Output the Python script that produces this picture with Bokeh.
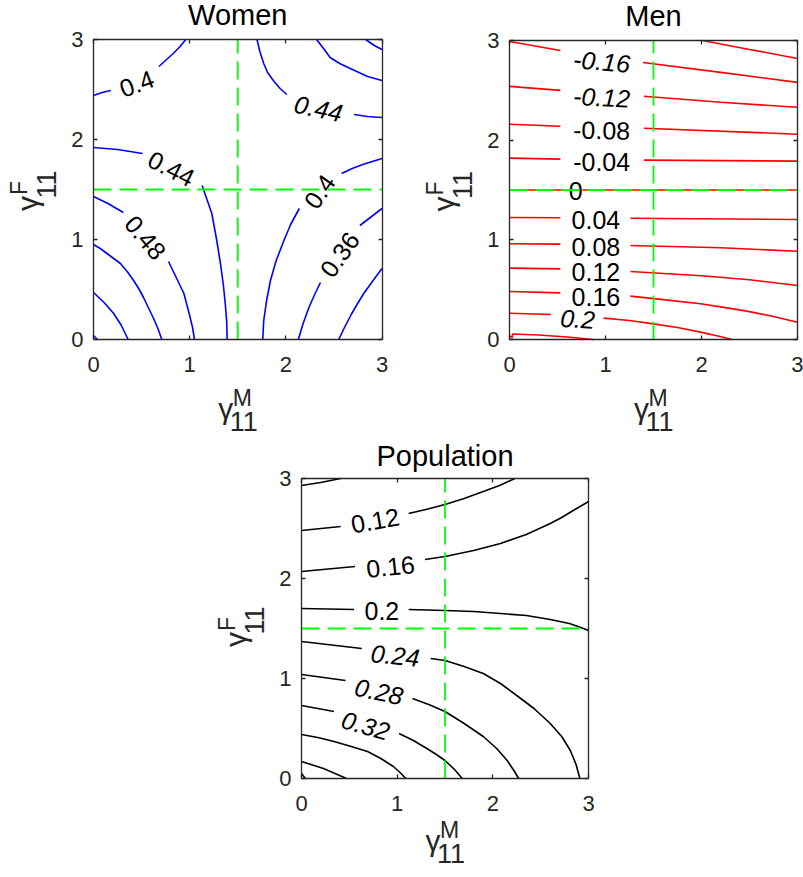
from bokeh.plotting import figure
from bokeh.models import Range1d, FixedTicker, LinearAxis, ColumnDataSource
from bokeh.layouts import column, row
from bokeh.embed import file_html
from bokeh.resources import INLINE
from bokeh.core.properties import value

# ---------------- data ----------------
AX_MIN, AX_MAX = 0, 3
TICKS = [0, 1, 2, 3]
TICK_LABELS = {0: "0", 1: "1", 2: "2", 3: "3"}
REF_X = 1.5
REF_Y = 1.5

# Women contour segments (gaps at label positions)
WOMEN_X = [
    [0.0, 0.09, 0.18], [0.68, 0.76, 0.83, 0.90, 0.96],
    [1.70, 1.73, 1.77, 1.81, 1.87, 1.94, 2.01], [2.71, 2.85, 3.0],
    [2.32, 2.40, 2.46, 2.56, 2.67, 2.85, 3.0],
    [2.83, 2.92, 3.0],
    [3.0, 2.90, 2.80, 2.69, 2.58], [2.14, 2.05, 1.98, 1.90, 1.84, 1.80, 1.77, 1.76],
    [3.0, 2.77], [2.36, 2.30, 2.24, 2.18, 2.13],
    [3.0, 2.90, 2.81, 2.74, 2.68, 2.61, 2.55],
    [0.0, 0.25, 0.51],
    [1.13, 1.18, 1.23, 1.28, 1.32, 1.35, 1.37, 1.385, 1.39],
    [0.0, 0.15, 0.31], [0.78, 0.82, 0.86, 0.90, 0.94, 0.97, 1.00, 1.03, 1.05],
    [0.0, 0.07, 0.14, 0.21, 0.28, 0.35, 0.41, 0.47, 0.52, 0.57, 0.62, 0.67, 0.71],
    [0.0, 0.11, 0.21, 0.29, 0.36],
    [0.0, 0.04],
]
WOMEN_Y = [
    [2.44, 2.47, 2.49], [2.73, 2.80, 2.86, 2.93, 3.0],
    [3.0, 2.88, 2.76, 2.67, 2.59, 2.51, 2.45], [2.25, 2.23, 2.22],
    [3.0, 2.90, 2.82, 2.76, 2.71, 2.63, 2.59],
    [3.0, 2.94, 2.90],
    [1.81, 1.78, 1.75, 1.71, 1.66], [1.31, 1.15, 0.99, 0.79, 0.59, 0.39, 0.19, 0.0],
    [1.31, 1.14], [0.57, 0.45, 0.32, 0.16, 0.0],
    [0.71, 0.58, 0.46, 0.35, 0.25, 0.12, 0.0],
    [1.92, 1.90, 1.86],
    [1.54, 1.40, 1.26, 1.00, 0.76, 0.55, 0.36, 0.18, 0.0],
    [1.43, 1.36, 1.27], [0.78, 0.70, 0.62, 0.54, 0.46, 0.35, 0.24, 0.12, 0.0],
    [0.95, 0.91, 0.86, 0.81, 0.76, 0.68, 0.60, 0.51, 0.42, 0.32, 0.22, 0.11, 0.0],
    [0.47, 0.37, 0.26, 0.14, 0.0],
    [0.04, 0.0],
]
WOMEN_LABELS = ["0.4", "0.44", "0.44", "0.48", "0.4", "0.36"]
WOMEN_LAB_X = [0.45, 2.34, 0.81, 0.54, 2.35, 2.56]
WOMEN_LAB_Y = [2.56, 2.31, 1.71, 1.02, 1.48, 0.85]
WOMEN_LAB_ANGLE = [20, -12, -27, -50, 55, 55]
WOMEN_LAB_ITALIC = [False, True, False, False, False, False]

# Men contour segments
MEN_X = [
    [2.01, 2.5, 3.0],
    [0.0, 0.53], [1.39, 2.2, 3.0],
    [0.0, 0.53], [1.40, 2.2, 3.0],
    [0.0, 0.53], [1.40, 3.0],
    [0.0, 0.53], [1.40, 3.0],
    [0.0, 0.55], [0.76, 3.0],
    [0.0, 0.53], [1.26, 3.0],
    [0.0, 0.53], [1.26, 2.2, 3.0],
    [0.0, 0.53], [1.26, 2.0, 2.5, 3.0],
    [0.0, 0.53], [1.26, 1.6, 1.99, 2.25, 2.5, 2.75, 3.0],
    [0.0, 0.43], [0.98, 1.25, 1.5, 1.75, 1.99, 2.17, 2.32],
    [0.0, 0.03, 0.03, 0.3, 0.6, 0.87],
]
MEN_Y = [
    [3.0, 2.91, 2.82],
    [2.99, 2.90], [2.78, 2.68, 2.58],
    [2.54, 2.50], [2.44, 2.38, 2.33],
    [2.16, 2.14], [2.12, 2.06],
    [1.82, 1.81], [1.80, 1.79],
    [1.5, 1.5], [1.5, 1.5],
    [1.224, 1.221], [1.217, 1.204],
    [0.96, 0.957], [0.943, 0.92, 0.886],
    [0.716, 0.709], [0.682, 0.64, 0.60, 0.542],
    [0.482, 0.468], [0.435, 0.40, 0.358, 0.32, 0.28, 0.23, 0.174],
    [0.264, 0.251], [0.214, 0.19, 0.157, 0.12, 0.074, 0.035, 0.0],
    [0.035, 0.02, 0.055, 0.045, 0.025, 0.0],
]
MEN_LABELS = ["-0.16", "-0.12", "-0.08", "-0.04", "0", "0.04", "0.08", "0.12", "0.16", "0.2"]
MEN_LAB_X = [0.96, 0.96, 0.96, 0.96, 0.69, 0.90, 0.90, 0.90, 0.90, 0.71]
MEN_LAB_Y = [2.79, 2.43, 2.10, 1.78, 1.49, 1.20, 0.93, 0.675, 0.425, 0.207]
MEN_LAB_ANGLE = [-5, -3, -1, 0, 0, 0, 0, 0, 0, -4]
MEN_LAB_ITALIC = [True, True, False, False, False, False, False, False, False, True]

# Population contour segments
POP_X = [
    [0.0, 0.2, 0.41],
    [0.0, 0.41], [1.12, 1.30, 1.50, 1.70, 1.90, 2.07, 2.23],
    [0.0, 0.56], [1.29, 1.50, 1.80, 2.08, 2.35, 2.60, 2.72, 2.84, 2.93, 3.0],
    [0.0, 0.55], [1.12, 1.50, 1.80, 2.08, 2.35, 2.60, 2.80, 2.92, 3.0],
    [0.0, 0.63], [1.35, 1.50, 1.70, 1.90, 2.08, 2.25, 2.43, 2.60, 2.72, 2.81, 2.87, 2.91],
    [0.0, 0.46], [1.16, 1.33, 1.50, 1.70, 1.90, 2.04, 2.15, 2.22, 2.27],
    [0.0, 0.34], [1.02, 1.17, 1.31, 1.41, 1.50, 1.60, 1.68],
    [0.0, 0.17, 0.34, 0.52, 0.69, 0.83, 0.96, 1.03, 1.09],
    [0.0, 0.23, 0.47],
    [0.0, 0.04],
]
POP_Y = [
    [2.93, 2.96, 3.0],
    [2.48, 2.52], [2.65, 2.69, 2.74, 2.80, 2.87, 2.93, 3.0],
    [2.07, 2.12], [2.19, 2.22, 2.28, 2.35, 2.44, 2.55, 2.61, 2.68, 2.73, 2.77],
    [1.70, 1.69], [1.69, 1.68, 1.67, 1.65, 1.63, 1.59, 1.55, 1.51, 1.48],
    [1.37, 1.30], [1.20, 1.18, 1.12, 1.05, 0.95, 0.83, 0.70, 0.55, 0.42, 0.28, 0.14, 0.0],
    [1.04, 0.98], [0.80, 0.74, 0.67, 0.55, 0.42, 0.30, 0.18, 0.08, 0.0],
    [0.73, 0.67], [0.45, 0.38, 0.30, 0.24, 0.18, 0.09, 0.0],
    [0.44, 0.41, 0.37, 0.32, 0.27, 0.20, 0.12, 0.06, 0.0],
    [0.17, 0.10, 0.0],
    [0.05, 0.0],
]
POP_LABELS = ["0.12", "0.16", "0.2", "0.24", "0.28", "0.32"]
POP_LAB_X = [0.77, 0.93, 0.84, 0.98, 0.81, 0.67]
POP_LAB_Y = [2.58, 2.12, 1.68, 1.23, 0.87, 0.53]
POP_LAB_ANGLE = [10, 6, 0, -6, -12, -16]
POP_LAB_ITALIC = [False, False, False, True, True, True]

# ---------------- styling / layout (pixels) ----------------
FONT = "Liberation Sans"
AXC = "#262626"
GREEN = "#00ff00"


def make_axis(p, loc, fixed, with_labels, standoff=10):
    ax = LinearAxis(fixed_location=fixed, bounds=(AX_MIN, AX_MAX),
                    ticker=FixedTicker(ticks=TICKS), major_tick_in=4, major_tick_out=0,
                    minor_tick_line_color=None, axis_line_color=AXC, axis_line_width=1.3,
                    major_tick_line_color=AXC, major_tick_line_width=1.3)
    if with_labels:
        ax.major_label_overrides = TICK_LABELS
        ax.major_label_text_font = FONT
        ax.major_label_text_font_size = "22px"
        ax.major_label_text_color = AXC
        ax.major_label_standoff = standoff
    else:
        ax.major_label_text_color = None
    p.add_layout(ax, loc)


def panel(title, xs, ys, color, labs, lx, ly, la, lit,
          cw, ch, cx0, cy0, bl, br, bt, bb, xlab_dy, ylab_dy, title_dy):
    ppx = (br - bl) / (AX_MAX - AX_MIN)
    ppy = (bb - bt) / (AX_MAX - AX_MIN)
    x_lo = AX_MIN + (cx0 - bl) / ppx
    x_hi = AX_MIN + (cx0 + cw - bl) / ppx
    y_hi = AX_MIN + (bb - cy0) / ppy
    y_lo = AX_MIN + (bb - (cy0 + ch)) / ppy
    p = figure(width=cw, height=ch, x_range=Range1d(x_lo, x_hi), y_range=Range1d(y_lo, y_hi),
               x_axis_location=None, y_axis_location=None, min_border=0,
               output_backend="svg", toolbar_location=None)
    p.grid.visible = False
    p.outline_line_color = None
    p.background_fill_color = "white"
    p.border_fill_color = "white"

    make_axis(p, "below", AX_MIN, True, 17)
    make_axis(p, "left", AX_MIN, True, 10)
    make_axis(p, "above", AX_MAX, False)
    make_axis(p, "right", AX_MAX, False)

    p.multi_line(xs=xs, ys=ys, line_color=color, line_width=1.6)

    for it in (False, True):
        idx = [i for i in range(len(labs)) if lit[i] == it]
        if not idx:
            continue
        src = ColumnDataSource(dict(x=[lx[i] for i in idx], y=[ly[i] for i in idx],
                                    t=[labs[i] for i in idx], a=[la[i] for i in idx]))
        p.text(x="x", y="y", text="t", angle="a", angle_units="deg", source=src,
               text_align="center", text_baseline="middle", text_color="black",
               text_font=value(FONT), text_font_size="25px",
               text_font_style="italic" if it else "normal")

    # green reference lines
    p.line(x=[REF_X, REF_X], y=[AX_MIN, AX_MAX], line_color=GREEN, line_dash="18 8", line_width=1.8)
    p.line(x=[AX_MIN, AX_MAX], y=[REF_Y, REF_Y], line_color=GREEN, line_dash="18 8", line_width=1.8)

    mid = (AX_MIN + AX_MAX) / 2
    # title
    p.text(x=[mid], y=[AX_MAX], text=[title], y_offset=title_dy, text_align="center",
           text_baseline="middle", text_font=value(FONT), text_font_size="29px",
           text_color="black")
    # x-axis label: gamma^M_11
    p.text(x=[mid], y=[AX_MIN], text=["\u03b3"], x_offset=-12, y_offset=xlab_dy,
           text_align="center", text_baseline="middle", text_font=value(FONT),
           text_font_size="30px", text_color=AXC)
    p.text(x=[mid], y=[AX_MIN], text=["M"], x_offset=4.5, y_offset=xlab_dy - 11,
           text_align="center", text_baseline="middle", text_font=value(FONT),
           text_font_size="23px", text_color=AXC)
    p.text(x=[mid], y=[AX_MIN], text=["11"], x_offset=6, y_offset=xlab_dy + 13,
           text_align="center", text_baseline="middle", text_font=value(FONT),
           text_font_size="27px", text_color=AXC)
    # y-axis label: gamma^F_11 (rotated)
    p.text(x=[AX_MIN], y=[mid], text=["\u03b3"], angle=90, angle_units="deg",
           x_offset=-66, y_offset=ylab_dy, text_align="center", text_baseline="middle",
           text_font=value(FONT), text_font_size="30px", text_color=AXC)
    p.text(x=[AX_MIN], y=[mid], text=["F"], angle=90, angle_units="deg",
           x_offset=-75, y_offset=ylab_dy - 15.5, text_align="center", text_baseline="middle",
           text_font=value(FONT), text_font_size="23px", text_color=AXC)
    p.text(x=[AX_MIN], y=[mid], text=["11"], angle=90, angle_units="deg",
           x_offset=-47, y_offset=ylab_dy - 19, text_align="center", text_baseline="middle",
           text_font=value(FONT), text_font_size="27px", text_color=AXC)
    return p


p1 = panel("Women", WOMEN_X, WOMEN_Y, "#0000ff", WOMEN_LABELS, WOMEN_LAB_X, WOMEN_LAB_Y,
           WOMEN_LAB_ANGLE, WOMEN_LAB_ITALIC,
           401, 438, 0, 0, 93, 381.5, 39, 339, 69, 14, -24.5)
p2 = panel("Men", MEN_X, MEN_Y, "#ff0000", MEN_LABELS, MEN_LAB_X, MEN_LAB_Y,
           MEN_LAB_ANGLE, MEN_LAB_ITALIC,
           402, 438, 401, 0, 509, 797, 40, 339, 69, 14, -25)
p3 = panel("Population", POP_X, POP_Y, "black", POP_LABELS, POP_LAB_X, POP_LAB_Y,
           POP_LAB_ANGLE, POP_LAB_ITALIC,
           803, 439, 0, 438, 301, 588, 478, 778, 62, 11, -23)

layout = column(row(p1, p2), p3)
open("out.html", "w").write(file_html(layout, INLINE))
